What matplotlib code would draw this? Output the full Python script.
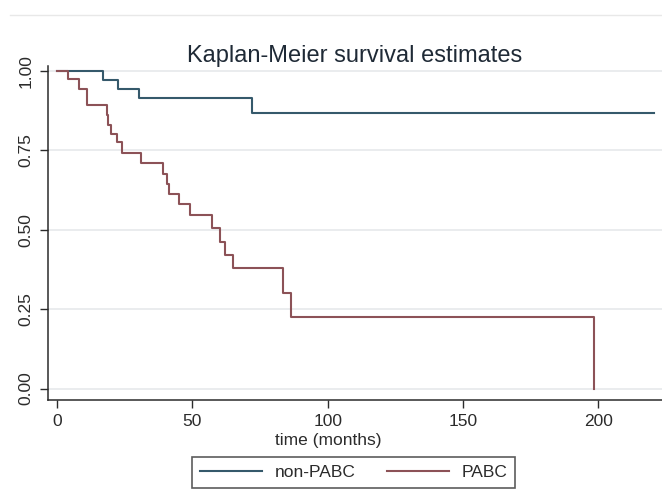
import matplotlib
matplotlib.use("Agg")
import matplotlib.pyplot as plt
from matplotlib.lines import Line2D

plt.rcParams['font.family'] = ['Liberation Sans', 'DejaVu Sans']

# Data
nonpabc_time = [0, 17.1, 22.4, 30.3, 72.0, 220.5]
nonpabc_surv = [1.0, 0.971, 0.943, 0.914, 0.867, 0.867]

pabc_time = [0, 4.2, 8.1, 11.1, 18.4, 19.0, 20.0, 22.1, 24.0, 31.0, 39.3, 40.5,
             41.2, 44.9, 49.3, 57.3, 60.2, 62.2, 65.2, 83.4, 86.3, 198.5]
pabc_surv = [1.0, 0.974, 0.945, 0.892, 0.862, 0.831, 0.803, 0.776, 0.743, 0.710,
             0.677, 0.645, 0.613, 0.582, 0.546, 0.505, 0.463, 0.421, 0.380, 0.302,
             0.227, 0.0]

x_ticks = [0, 50, 100, 150, 200]
y_ticks = [0.0, 0.25, 0.5, 0.75, 1.0]
y_ticklabels = ["0.00", "0.25", "0.50", "0.75", "1.00"]
series_labels = ["non-PABC", "PABC"]
title = "Kaplan-Meier survival estimates"
xlabel = "time (months)"

blue = "#35596b"
red = "#8c5257"
dark = "#2b2b2b"

fig = plt.figure(figsize=(6.62, 4.9), dpi=100)
fig.patch.set_facecolor("white")
ax = fig.add_axes([47.5 / 662, 90 / 490, 1 - 47.5 / 662, (424 - 90) / 490])

ax.step(nonpabc_time, nonpabc_surv, where="post", color=blue, lw=1.5,
        label=series_labels[0])
ax.step(pabc_time, pabc_surv, where="post", color=red, lw=1.5,
        label=series_labels[1])

ax.set_xlim(-3.5, 223.5)
ax.set_ylim(-0.036, 1.016)
ax.set_xticks(x_ticks)
ax.set_xticklabels([str(v) for v in x_ticks], fontsize=12.5, color=dark)
ax.set_yticks(y_ticks)
ax.set_yticklabels(y_ticklabels, fontsize=12.5, color=dark, rotation=90, va="center")
ax.tick_params(axis="both", length=6, width=1, color=dark, pad=4)

ax.grid(axis="y", color="#e6e9eb", lw=1.2)
ax.set_axisbelow(True)
for s in ["top", "right"]:
    ax.spines[s].set_visible(False)
for s in ["left", "bottom"]:
    ax.spines[s].set_color(dark)
    ax.spines[s].set_linewidth(1.1)

fig.text(355 / 662, (490 - 56) / 490, title, ha="center", va="center",
         fontsize=17, color="#1f2a36")
fig.text(328 / 662, (490 - 440) / 490, xlabel, ha="center", va="center",
         fontsize=12.5, color=dark)

# faint outer border line at top
fig.add_artist(Line2D([10 / 662, 1.0], [(490 - 15) / 490] * 2,
                      transform=fig.transFigure, color="#e8e8e8", lw=1))

leg = fig.legend(loc="center", bbox_to_anchor=(353.5 / 662, (490 - 472.5) / 490),
                 ncol=2, fontsize=12.5, frameon=True, fancybox=False,
                 edgecolor="#333333", handlelength=3.6, handletextpad=0.7,
                 columnspacing=1.8, borderpad=0.45)
leg.get_frame().set_linewidth(1.2)
for t in leg.get_texts():
    t.set_color(dark)

fig.savefig("out.png", dpi=100, facecolor="white")
